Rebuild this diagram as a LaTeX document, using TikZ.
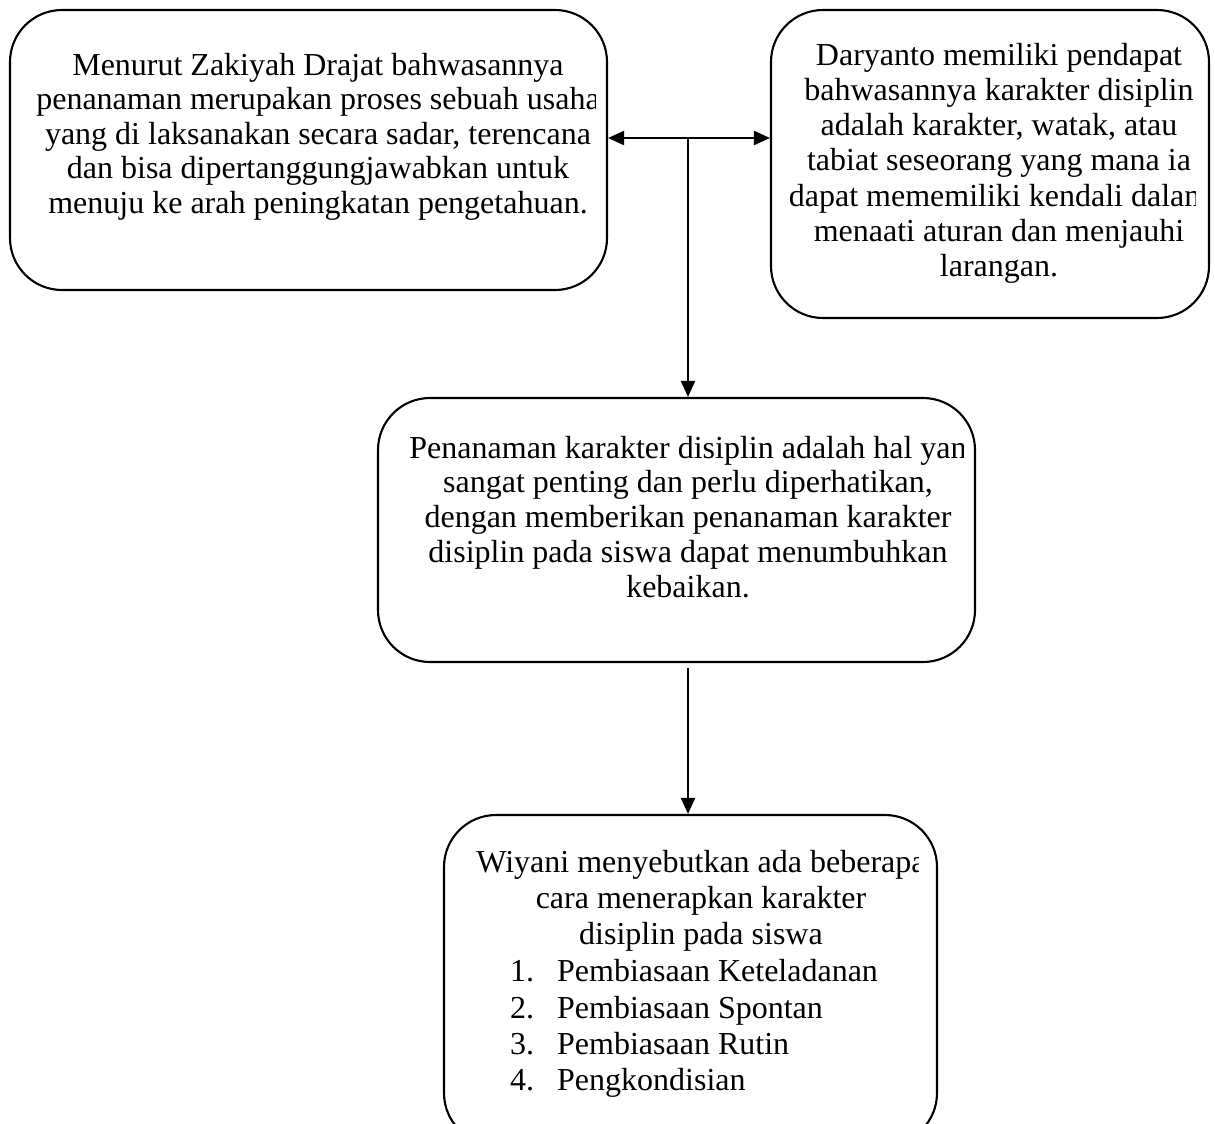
\documentclass[tikz,border=0pt]{standalone}
\usepackage{fontspec}
\setmainfont{Liberation Serif}
\usetikzlibrary{arrows.meta,calc}
\begin{document}
\begin{tikzpicture}[x=1pt,y=-1pt,
  box/.style={draw, line width=2.1pt, rounded corners=52pt, inner sep=0pt},
  txt/.style={font=\fontsize{32}{34.5}\selectfont, align=center, inner sep=0pt, anchor=north},
  arr/.style={line width=2.2pt, -{Triangle[length=16pt,width=14pt]}},
  darr/.style={line width=2.2pt, {Triangle[length=16pt,width=14pt]}-{Triangle[length=16pt,width=14pt]}}]
\useasboundingbox (0,0) rectangle (1215,1124);
\clip (0,0) rectangle (1215,1124);
% boxes
\node[box, minimum width=597pt, minimum height=280pt] (b1) at (308.5,150) {};
\node[box, minimum width=438pt, minimum height=308pt] (b2) at (990,164) {};
\node[box, minimum width=597pt, minimum height=264pt] (b3) at (676.5,530) {};
\node[box, minimum width=493pt, minimum height=330pt] (b4) at (690.5,980) {};
% texts
\begin{scope}
\clip (10,10) rectangle (595,290);
\node[txt] (t1) at (318,51) {\rule{0pt}{24pt}Menurut Zakiyah Drajat bahwasannya\\penanaman merupakan proses sebuah usaha\\yang di laksanakan secara sadar, terencana\\dan bisa dipertanggungjawabkan untuk\\menuju ke arah peningkatan pengetahuan.};
\end{scope}
\begin{scope}
\clip (772,10) rectangle (1195,318);
\node[txt, font=\fontsize{32}{35.2}\selectfont] (t2) at (999,41) {\rule{0pt}{24pt}Daryanto memiliki pendapat\\bahwasannya karakter disiplin\\adalah karakter, watak, atau\\tabiat seseorang yang mana ia\\dapat mememiliki kendali dalam\\menaati aturan dan menjauhi\\larangan.};
\end{scope}
\begin{scope}
\clip (378,398) rectangle (963,662);
\node[txt, font=\fontsize{32}{34.75}\selectfont] (t3) at (688,434) {\rule{0pt}{24pt}\hspace*{16pt}Penanaman karakter disiplin adalah hal yang\\sangat penting dan perlu diperhatikan,\\dengan memberikan penanaman karakter\\disiplin pada siswa dapat menumbuhkan\\kebaikan.};
\end{scope}
\begin{scope}
\clip (444,815) rectangle (918,1124);
\node[txt, font=\fontsize{32}{36.3}\selectfont] (t4) at (701,848) {\rule{0pt}{24pt}Wiyani menyebutkan ada beberapa\\cara menerapkan karakter\\disiplin pada siswa};
\node[txt, font=\fontsize{32}{36.3}\selectfont, align=left, anchor=north west] (t5) at (510,957.5) {\rule{0pt}{24pt}\makebox[47pt][l]{1.}Pembiasaan Keteladanan\\\makebox[47pt][l]{2.}Pembiasaan Spontan\\\makebox[47pt][l]{3.}Pembiasaan Rutin\\\makebox[47pt][l]{4.}Pengkondisian};
\end{scope}
% connectors
\coordinate (j) at (688,138);
\coordinate (k) at (688,668);
\draw[darr] (b1.east |- j) -- (b2.west |- j);
\draw[arr] (j) -- (j |- b3.north);
\draw[arr] (k) -- (k |- b4.north);
\end{tikzpicture}
\end{document}
